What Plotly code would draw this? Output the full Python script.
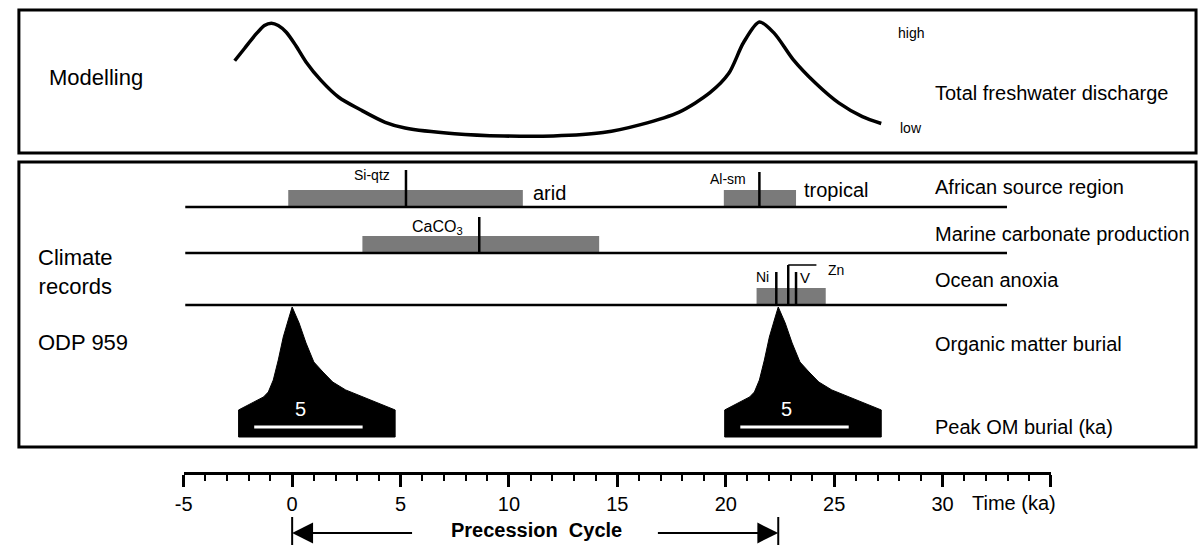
import plotly.graph_objects as go

# ---------------- data (time in ka) ----------------
# Modelled total freshwater discharge, relative units (0 = low, 1 = high)
discharge_time = [-2.65, -2.19, -1.64, -1.28, -0.96, -0.64, -0.27, 0.18, 0.64, 1.32,
                  2.15, 3.15, 4.29, 5.21, 7.49, 9.77, 12.05, 14.34, 16.07, 17.85,
                  19.27, 20.14, 20.82, 21.55, 22.24, 23.11, 24.16, 25.21, 26.3, 27.17]
discharge_rel = [0.66, 0.77, 0.90, 0.97, 0.99, 0.97, 0.91, 0.79, 0.65, 0.49,
                 0.34, 0.23, 0.12, 0.07, 0.02, 0.0, 0.0, 0.03, 0.10, 0.21,
                 0.38, 0.55, 0.82, 1.0, 0.90, 0.67, 0.46, 0.29, 0.17, 0.11]

# Proxy intervals (grey bars)
bar_rows = ["African source region", "African source region",
            "Marine carbonate production", "Ocean anoxia"]
bar_start = [-0.18, 19.91, 3.24, 21.42]
bar_end = [10.64, 23.24, 14.16, 24.61]

# Proxy maxima (vertical markers)
marker_names = ["Si-qtz", "Al-sm", "CaCO3", "Ni", "Zn", "V"]
marker_rows = ["African source region", "African source region",
               "Marine carbonate production", "Ocean anoxia", "Ocean anoxia", "Ocean anoxia"]
marker_time = [5.25, 21.55, 8.63, 22.33, 22.88, 23.24]

# Organic matter burial peaks (ODP 959)
om_peak_time = [0.0, 22.42]
om_shape_offset = [0.0, 0.32, 0.64, 1.0, 1.42, 1.87, 2.47, 3.38, 4.75, 4.75,
                   -2.47, -2.47, -1.78, -1.32, -1.10, -0.87, -0.64, -0.41, -0.18, 0.0]
om_shape_rel = [1.0, 0.877, 0.723, 0.577, 0.5, 0.423, 0.362, 0.3, 0.208, 0.0,
                0.0, 0.208, 0.269, 0.308, 0.346, 0.438, 0.592, 0.769, 0.9, 1.0]
om_scale_ka = 5.0
om_scale_start_offset = -1.75

# Precession cycle
precession_start = 0.0
precession_end = 22.42

# Time axis
tick_vals = [-5, 0, 5, 10, 15, 20, 25, 30, 35]
tick_text = ["-5", "0", "5", "10", "15", "20", "25", "30", " "]
row_line_start, row_line_end = -4.93, 32.97

# ---------------- layout geometry ----------------
W, H = 1203, 545
PX0, PXK = 286.0, 21.9          # pixel of t=0, pixels per ka
XR = [-5, 35]
x_dom = [(PX0 + XR[0] * PXK) / W, (PX0 + XR[1] * PXK) / W]


def yp(p):
    return 1 - p / H


def dom(v0_px, v1_px, rmin, rmax):
    span = v0_px - v1_px
    return [yp(v0_px - rmin * span), yp(v0_px - rmax * span)]


row_base = {"African source region": 207, "Marine carbonate production": 253, "Ocean anoxia": 305}
bar_h = 17
marker_h = {"Si-qtz": 37, "Al-sm": 35, "CaCO3": 36, "Ni": 33, "Zn": 40, "V": 33}

FONT = "Liberation Sans, Arial, Helvetica, sans-serif"
GREY = "#7a7a7a"

fig = go.Figure()

# grey bars
fig.add_trace(go.Bar(
    orientation="h",
    base=bar_start,
    x=[e - s for s, e in zip(bar_start, bar_end)],
    y=[row_base[r] - bar_h / 2 for r in bar_rows],
    width=bar_h,
    marker=dict(color=GREY, line=dict(width=0)),
    xaxis="x", yaxis="y", showlegend=False, hoverinfo="skip",
))

# row baselines
for r, b in row_base.items():
    fig.add_trace(go.Scatter(x=[row_line_start, row_line_end], y=[b, b], mode="lines",
                             line=dict(color="black", width=2.5),
                             xaxis="x", yaxis="y", showlegend=False, hoverinfo="skip"))

# proxy markers
for n, r, t in zip(marker_names, marker_rows, marker_time):
    b = row_base[r]
    fig.add_trace(go.Scatter(x=[t, t], y=[b, b - marker_h[n]], mode="lines",
                             line=dict(color="black", width=2.5),
                             xaxis="x", yaxis="y", showlegend=False, hoverinfo="skip"))
# Zn bracket
zn_t = marker_time[marker_names.index("Zn")]
fig.add_trace(go.Scatter(x=[zn_t, zn_t + 1.3], y=[265, 265], mode="lines",
                         line=dict(color="black", width=1.5),
                         xaxis="x", yaxis="y", showlegend=False, hoverinfo="skip"))

# discharge curve
fig.add_trace(go.Scatter(x=discharge_time, y=discharge_rel, mode="lines",
                         line=dict(color="black", width=3.5, shape="spline", smoothing=0.8),
                         xaxis="x", yaxis="y2", showlegend=False, hoverinfo="skip"))

# OM burial peaks
for pt in om_peak_time:
    fig.add_trace(go.Scatter(x=[pt + o for o in om_shape_offset], y=om_shape_rel,
                             mode="lines", fill="toself", fillcolor="black",
                             line=dict(color="black", width=1),
                             xaxis="x", yaxis="y3", showlegend=False, hoverinfo="skip"))
    s0 = pt + om_scale_start_offset
    fig.add_trace(go.Scatter(x=[s0, s0 + om_scale_ka], y=[0.077, 0.077], mode="lines",
                             line=dict(color="white", width=3),
                             xaxis="x", yaxis="y3", showlegend=False, hoverinfo="skip"))

# precession end bars
for t in [precession_start, precession_end]:
    fig.add_trace(go.Scatter(x=[t, t], y=[517, 545], mode="lines",
                             line=dict(color="black", width=2),
                             xaxis="x", yaxis="y", showlegend=False, hoverinfo="skip"))

ann = []


def txt(text, x, y, size, xref="paper", xanchor="left", color="black", bold=False):
    if xref == "paper":
        x = x / W
    ann.append(dict(text=("<b>%s</b>" % text) if bold else text, x=x, y=y, xref=xref, yref="y",
                    xanchor=xanchor, yanchor="middle", showarrow=False,
                    font=dict(family=FONT, size=size, color=color)))


txt("Modelling", 38, 77, 22)
txt("Climate<br>records", 27, 272, 22)
txt("ODP 959", 27, 342, 22)
txt("Total freshwater discharge", 933, 93, 20)
txt("African source region", 933, 187, 20)
txt("Marine carbonate production", 933, 234, 20)
txt("Ocean anoxia", 933, 280, 20)
txt("Organic matter burial", 933, 344, 20)
txt("Peak OM burial (ka)", 933, 427, 20)
txt("high", 896, 33, 14)
txt("low", 898, 128, 14)
txt("arid", 11.0, 193, 20, xref="x")
txt("tropical", 23.5, 190, 20, xref="x")
txt("Si-qtz", 3.7, 175, 14, xref="x", xanchor="center")
txt("Al-sm", 20.1, 179, 14, xref="x", xanchor="center")
txt("CaCO<sub>3</sub>", 6.7, 227, 16, xref="x", xanchor="center")
txt("Ni", 21.7, 277, 14, xref="x", xanchor="center")
txt("V", 23.65, 277, 15, xref="x", xanchor="center")
txt("Zn", 25.1, 270, 14, xref="x", xanchor="center")
for pt in om_peak_time:
    txt("5", pt + 0.4, 409, 20, xref="x", xanchor="center", color="white")
txt("Time (ka)", 971, 503, 20)
txt("Precession\u00a0\u00a0Cycle", (precession_start + precession_end) / 2 + 0.05, 530, 20,
    xref="x", xanchor="center", bold=True)

# precession arrows
for tip, tail in [(precession_start, 5.6), (precession_end, 16.8)]:
    ann.append(dict(x=tip, y=533, ax=tail, ay=533, xref="x", yref="y", axref="x", ayref="y",
                    text="", showarrow=True, arrowhead=2, arrowsize=1.9, arrowwidth=2.2,
                    arrowcolor="black", standoff=0))

shapes = [
    dict(type="rect", xref="paper", yref="paper", x0=10 / W, x1=1199 / W, y0=yp(153), y1=yp(10),
         line=dict(color="black", width=3)),
    dict(type="rect", xref="paper", yref="paper", x0=10 / W, x1=1199 / W, y0=yp(447), y1=yp(162),
         line=dict(color="black", width=3)),
]

fig.update_layout(
    width=W, height=H,
    margin=dict(l=0, r=0, t=0, b=0),
    paper_bgcolor="white", plot_bgcolor="rgba(0,0,0,0)",
    barmode="overlay",
    showlegend=False,
    annotations=ann, shapes=shapes,
    xaxis=dict(domain=x_dom, range=XR, anchor="free", position=yp(473),
               showline=True, linecolor="black", linewidth=2.5, mirror=False,
               tickmode="array", tickvals=tick_vals, ticktext=tick_text,
               ticks="outside", ticklen=12, tickwidth=2.5, tickcolor="black",
               minor=dict(dtick=1, tick0=0, ticks="outside", ticklen=6, tickwidth=2, tickcolor="black"),
               tickfont=dict(family=FONT, size=20, color="black"),
               showgrid=False, zeroline=False, fixedrange=True),
    yaxis=dict(domain=[0, 1], range=[H, 0], visible=False, showgrid=False, zeroline=False),
    yaxis2=dict(domain=dom(136, 22, -0.1, 1.1), range=[-0.1, 1.1], anchor="x",
                visible=False, showgrid=False, zeroline=False),
    yaxis3=dict(domain=dom(437, 307, -0.05, 1.05), range=[-0.05, 1.05], anchor="x",
                visible=False, showgrid=False, zeroline=False),
)

fig.write_html("out.html")
